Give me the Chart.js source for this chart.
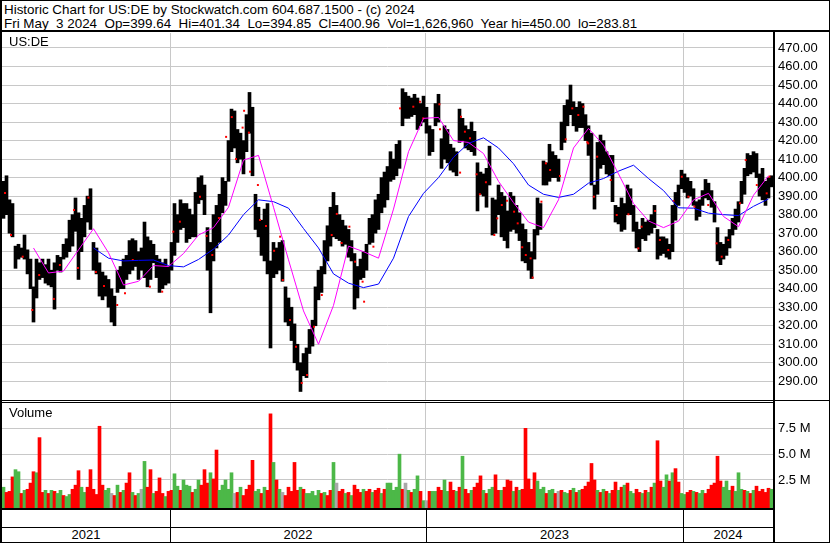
<!DOCTYPE html>
<html><head><meta charset="utf-8">
<script src="https://cdn.jsdelivr.net/npm/chart.js@4.4.1/dist/chart.umd.min.js"></script>
<style>
html,body{margin:0;padding:0;background:#fff;}
#wrap{position:relative;width:830px;height:543px;overflow:hidden;font-family:"Liberation Sans",Arial,sans-serif;color:#000;background:#fff;}
.ln{position:absolute;background:#000;}
.txt{position:absolute;white-space:pre;font-size:13.4px;line-height:15px;}
.yr{position:absolute;font-size:13px;line-height:14px;text-align:center;}
canvas{position:absolute;}
</style></head><body>
<div id="wrap">
 <div class="txt" style="left:4px;top:2px">Historic Chart for US:DE by Stockwatch.com 604.687.1500 - (c) 2024</div>
 <div class="txt" style="left:4px;top:16px">Fri May  3 2024  Op=399.64  Hi=401.34  Lo=394.85  Cl=400.96  Vol=1,626,960  Year hi=450.00  lo=283.81</div>
 <canvas id="price" width="830" height="367" style="left:0;top:33px"></canvas>
 <canvas id="vol" width="830" height="105" style="left:0;top:403px"></canvas>
 <div class="txt" style="left:9px;top:34px;font-size:13px">US:DE</div>
 <div class="txt" style="left:9px;top:405px;font-size:13px">Volume</div>
 <div id="years"></div>
 <!-- frame lines -->
 <div class="ln" style="left:0;top:0;width:830px;height:1px"></div>
 <div class="ln" style="left:0;top:0;width:2px;height:543px"></div>
 <div class="ln" style="left:829px;top:0;width:1px;height:543px"></div>
 <div class="ln" style="left:0;top:542px;width:830px;height:1px"></div>
 <div class="ln" style="left:0;top:30px;width:830px;height:2px"></div>
 <div class="ln" style="left:773px;top:30px;width:2px;height:513px"></div>
 <div class="ln" style="left:0;top:400px;width:830px;height:1px"></div>
 <div class="ln" style="left:0;top:402px;width:775px;height:1px"></div>
 <div class="ln" style="left:0;top:508px;width:775px;height:2px"></div>
 <div class="ln" style="left:0;top:527px;width:775px;height:1px"></div>
</div>
<script>
// ---- data (each bar = 3 trading days, oldest first) ----
const priceHigh = [
398,401,388,386,363,364,362,369,361,356,
341,356,354,356,353,356,350,354,358,357,
364,367,377,380,389,381,378,385,390,394,
365,362,354,349,347,345,340,336,350,352,
356,358,366,367,366,360,362,376,368,366,
364,358,356,354,356,352,365,386,380,388,
386,386,383,380,392,400,401,396,373,365,
380,385,391,400,398,420,437,436,426,424,
420,434,446,438,391,384,377,383,386,355,
365,362,365,366,341,335,330,321,310,300,
305,308,318,323,341,350,352,366,374,384,
392,385,380,377,374,372,366,359,352,356,
360,364,378,380,388,391,400,403,406,414,
410,418,420,448,446,444,443,445,443,440,
444,438,428,426,440,445,421,428,426,418,
416,414,437,432,428,426,430,425,408,403,
402,405,417,389,388,396,392,390,382,392,
390,385,381,375,372,365,360,372,389,386,
409,408,418,414,412,410,430,439,442,450,
441,438,441,440,434,428,424,396,419,423,
420,414,412,412,385,384,389,386,396,394,
385,376,372,378,376,377,380,385,372,368,
368,367,364,385,392,396,404,402,400,398,
394,387,388,393,399,397,393,387,373,365,
364,368,372,378,383,387,398,405,413,412,
414,413,402,405,398,400,401];
const priceLow = [
378,380,370,368,351,356,357,356,348,340,
322,335,345,346,343,342,341,329,350,349,
356,357,360,363,371,345,360,368,376,372,
350,348,336,334,336,330,322,320,338,340,
340,345,348,350,352,345,350,346,341,345,
354,346,338,340,342,343,350,358,365,372,
373,365,367,368,368,386,388,380,350,327,
355,362,365,381,385,398,414,416,408,410,
402,414,424,401,372,368,358,355,348,308,
346,348,350,344,322,320,312,300,296,284.5,
293,292,305,309,320,334,338,348,355,363,
368,367,366,363,364,357,355,329,335,345,
346,350,364,365,370,372,381,384,388,398,
399,401,405,428,432,432,433,434,426,428,
430,424,412,414,428,430,405,410,408,404,
403,401,419,420,416,415,414,412,382,391,
390,384,396,369,370,380,368,366,362,371,
372,370,366,355,354,350,345.5,356,369,372,
396,396,398,400,400,398,415,419,428,434,
428,425,427,427,420,412,396,383,391,405,
407,402,401,387,376,375,371,372,380,380,
371,362,360,367,366,369,370,373,356,358,
359,357,356,360,377,385,394,392,389,390,
385,377,379,385,389,388,384,376,355,353,
356,358,362,369,372,376,386,391,401,402,
403,400,390,388,385,389,395];
// small red close markers: bar index and price
const redBar = [0.5,2.5,6.4,9.6,11.9,16.8,18.8,23.5,24.8,28.3,30.8,33.5,37.9,40.5,43.1,48.8,52.9,56.6,58.8,65.5,67.7,69.6,
71.8,74.2,76.1,77.5,79.7,80.2,81.8,82.2,84.8,85.5,87.5,90.2,92.2,93.1,95.5,97.5,99.4,101.2,103.5,106.1,109.4,111.1,112.7,115.3,117.2,119.7,120.2,123.3,
132.2,136.6,138.8,139.9,145.3,145.5,152.5,153.8,152.2,155.5,157.7,158.8,160.8,163.6,164.6,166.1,167.8,170.2,171.4,172.9,174.1,175.7,176.4,179.3,180.8,182.2,185.5,187.4,189.6,191.6,193.3,194.6,
194.9,196.8,197.9,202.4,204.4,208.3,211.6,212.7,217.2,218.8,221.6,223.3,226.1,228.3,230.3,234.9,237.7,239.4,241.6,245.5,247.4,251.1,254.4,255.3];
const redPrice = [391.7,369,357.3,328.5,347.4,334.5,352.8,382.5,351.2,389.2,349,341.5,331.2,337.5,355.5,341.1,338.4,370.8,376.2,389.7,368.5,358.2,
378.2,422,432.7,410,427,436.1,424.3,403.2,396,377.1,373.9,360.5,368.1,344.7,323.1,308.7,289.1,293.4,319.5,336.6,369,380.4,364.7,373.5,354.6,343.8,333,362.7,
437.4,438.3,441,432,439.6,426.1,432.9,424.8,402.7,421.2,401.8,391,397.5,369,378,385.2,387.5,381.6,375.3,362.4,358.2,356.4,346,387,407.7,404.1,400.9,420.7,437.4,433.8,438.3,419.1,
418.5,389.7,411.3,398.7,379.8,380.2,361.8,373.5,382,366.3,360.9,387.4,400.5,389.7,384.3,385.2,364.5,357.3,366.3,386.1,409.5,396,391.5,400.5];
// moving averages, one reading every 5 bars
const maStep = 5;
const maFast = [null,null,362,348.5,349.5,361,372.4,359.4,342,344,
352.5,352,359,369,373,384,409.5,412,384,355.6,
328,310,331,363,360,356.5,383,414,432,432.5,
420,419,413,398,386.5,376,373,388,416,426.6,
417.5,402,386,376.6,373,376.5,388,391.5,379,373.5,
390.5,401];
const maSlow = [null,null,null,null,null,null,362,356.5,355,355.3,
355.5,352.5,351.8,355.8,361.4,369,380,388,387,383.5,
372.5,362,348,343,340.6,342.5,356.5,379,391.5,400,
411,418.5,421.5,416,407.5,396,391,389.3,391,397,
399.5,403.5,406.7,399.5,393,383.7,383.5,380.8,380,379.5,
384.5,388.5];
// volume in millions, and colour code (g up, r down, n unchanged)
const volume = [
1.8,1.3,1.4,2.8,3.5,3.3,1.2,1.5,1.6,2.2,
3.3,3.2,6.6,1.3,1.5,1.2,1.5,1.4,1.2,1.5,
1.0,0.9,1.1,1.6,2.0,3.4,1.8,1.3,1.8,3.5,
1.6,1.1,7.7,2.0,1.5,1.7,1.2,1.0,2.0,1.3,
1.5,2.2,3.2,1.3,1.0,1.2,1.6,4.3,1.8,3.5,
1.2,1.4,2.7,1.2,0.9,1.4,1.5,3.1,1.9,1.5,
2.5,2.0,1.9,1.3,1.6,2.5,2.0,3.5,2.2,3.2,
2.6,5.4,1.5,2.0,2.5,1.6,3.2,1.2,1.3,1.8,
1.0,1.6,2.0,4.4,1.4,1.6,1.2,1.8,1.5,8.9,
4.2,2.5,1.6,1.3,1.0,1.8,1.4,4.2,1.5,1.8,
1.6,1.2,1.2,1.4,1.0,1.5,1.2,1.3,1.0,1.5,
4.2,2.2,1.4,1.6,1.2,1.3,1.0,2.0,1.6,1.3,
1.6,1.4,1.6,1.3,1.5,1.7,1.2,1.6,2.2,2.2,
1.5,1.8,5.0,1.6,2.2,1.5,1.3,1.6,2.9,1.4,
0.5,0.5,1.4,1.4,1.4,1.8,1.5,2.5,1.4,2.3,
1.5,1.4,1.8,4.8,1.6,1.2,1.5,1.8,2.2,2.9,
1.5,1.2,1.6,1.8,3.0,1.5,1.5,1.8,2.5,2.4,
1.4,1.8,1.5,1.6,7.5,2.6,1.6,3.2,2.4,1.6,
1.8,1.2,1.5,1.6,1.2,1.4,1.5,1.3,1.2,1.5,
1.7,1.3,1.5,1.6,1.9,2.3,4.1,2.5,1.5,1.3,
1.6,1.4,1.2,1.5,2.3,1.5,1.8,2.0,2.2,1.4,
1.2,1.6,1.3,1.2,1.5,1.3,1.8,2.2,6.3,2.4,
1.8,3.0,2.4,3.2,3.6,2.3,1.2,1.1,1.3,1.5,
1.4,1.3,1.2,1.5,1.2,1.6,2.0,2.2,4.8,2.4,
1.8,2.4,1.5,1.9,1.4,3.2,1.6,1.5,1.4,1.2,
1.5,1.9,1.4,1.6,1.3,1.7,1.6];
const volDir = "grrrggrgrr"+"rgrrgrgrgg"+"rggrrrggrr"+"rrrrggnrgr"+"grrgrgngrr"+
 "grrrgrrggr"+"gggrggrrrg"+"rrgggggnrg"+"rrrrggrgrr"+"grgnrrrrrg"+
 "rgggggrgrr"+"gnrrgrgrrr"+"grrgrrgrgg"+"gggrngrggr"+"gnrggrrggr"+
 "rgrgrrgrrr"+"grggrrgrrr"+"grgrrrrrgg"+"grggrnrggr"+"grgrrrrrgr"+
 "grgrrgrgrg"+"grrgrgrgrr"+"ggrgrrggrr"+"grggrrrrrr"+"gggrgggrgr"+"grrrrrg";
const priceTicks = [290,300,310,320,330,340,350,360,370,380,390,400,410,420,430,440,450,460,470];
const volTicks = [2.5,5.0,7.5];
const years = ["2021","2022","2023","2024"];
const yearBreaks = [55.5,140.83,226.5]; // bar index where a new year begins

// ---- rendering ----
Chart.defaults.font.family = "'Liberation Sans', Arial, sans-serif";
Chart.defaults.font.size = 13;
Chart.defaults.color = '#000';
const N = priceHigh.length;
const GRID = '#c8c8c8';
const dirColor = {g:'#4cb848', r:'#ff0000', n:'#a8a8a8'};

function noPad(s){ s.paddingTop = 0; s.paddingBottom = 0; s.paddingLeft = 0; s.paddingRight = 0; }
function xScale(){
  return {
    type:'linear', min:-0.5, max:N-0.5, display:true, offset:false,
    ticks:{display:false}, border:{display:false},
    grid:{color:GRID, drawTicks:false, lineWidth:1, offset:false},
    afterBuildTicks: s => { s.ticks = yearBreaks.map(v=>({value:v})); },
    afterFit: s => { s.height = 0; noPad(s); }
  };
}
function yScale(min,max,tickVals,fmt){
  return {
    position:'right', min:min, max:max,
    afterBuildTicks: s => { s.ticks = tickVals.map(v=>({value:v})); },
    afterFit: s => { s.width = 57; noPad(s); },
    ticks:{padding:5, color:'#000', font:{size:13}, callback: v => fmt(v)},
    grid:{color:GRID, drawTicks:false, lineWidth:1},
    border:{display:false}
  };
}
const common = {
  responsive:false, animation:false, devicePixelRatio:1,
  layout:{autoPadding:false, padding:{left:2,right:0,top:0,bottom:0}},
  plugins:{legend:{display:false}, tooltip:{enabled:false}},
  events:[]
};

new Chart(document.getElementById('price'), {
  type:'bar',
  data:{datasets:[
    {type:'line', data:maFast.map((v,k)=>({x:k*maStep,y:v})), borderColor:'#ff00ff', borderWidth:1, pointRadius:0, pointHoverRadius:0, order:0, spanGaps:false},
    {type:'line', data:maSlow.map((v,k)=>({x:k*maStep,y:v})), borderColor:'#0000ff', borderWidth:1, pointRadius:0, pointHoverRadius:0, order:0, spanGaps:false},
    {type:'line', showLine:false, data:redBar.map((b,k)=>({x:b,y:redPrice[k]})), pointStyle:'rect', pointRadius:1.4, pointHoverRadius:0, pointBorderWidth:0, pointBackgroundColor:'#ff0000', order:1},
    {type:'bar', data:priceHigh.map((h,i)=>({x:i,y:[priceLow[i],h]})), backgroundColor:'#000', borderWidth:0, barThickness:3, grouped:false, order:2}
  ]},
  options:Object.assign({}, common, {
    scales:{ x:xScale(), y:yScale(279.9,478.1,priceTicks,v=>v.toFixed(2)) }
  })
});

new Chart(document.getElementById('vol'), {
  type:'bar',
  data:{datasets:[
    {data:volume.map((v,i)=>({x:i,y:v})), backgroundColor:volume.map((v,i)=>dirColor[volDir[i]]), borderWidth:0, barThickness:3, base:-0.21, grouped:false}
  ]},
  options:Object.assign({}, common, {
    scales:{ x:xScale(), y:yScale(-0.21,9.95,volTicks,v=>v.toFixed(1)+' M') }
  })
});

// year strip: text centred in each year's span, separators at year starts
(function(){
  const wrap = document.getElementById('years');
  const left = 2, right = 773, pxPerBar = (right-left)/N;
  const toPx = b => left + (b+0.5)*pxPerBar;
  const edges = [left].concat(yearBreaks.map(toPx), [right]);
  years.forEach((y,k)=>{
    const d = document.createElement('div');
    d.className = 'yr';
    d.style.left = edges[k]+'px'; d.style.width = (edges[k+1]-edges[k])+'px';
    d.style.top = '528px'; d.textContent = y;
    wrap.appendChild(d);
  });
  yearBreaks.forEach(b=>{
    const l = document.createElement('div');
    l.className = 'ln';
    l.style.left = Math.round(toPx(b))+'px'; l.style.top = '510px';
    l.style.width = '1px'; l.style.height = '32px';
    wrap.appendChild(l);
  });
})();
</script>
</body></html>
